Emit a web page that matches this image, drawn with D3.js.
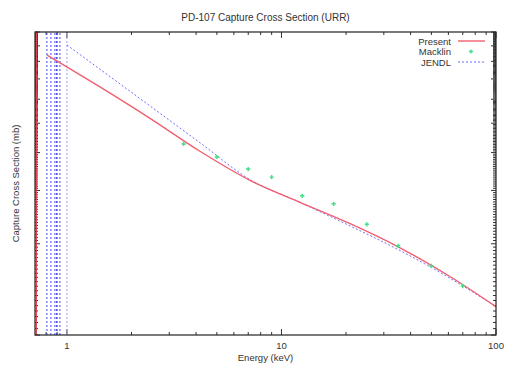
<!DOCTYPE html>
<html>
<head>
<meta charset="utf-8">
<script src="https://cdn.jsdelivr.net/npm/d3@7"></script>
<style>
    body { margin: 0; background: #fff; }
    text { font-family: "Liberation Sans", Arial, sans-serif; fill: #333; }
</style>
</head>
<body>
<div id="chart"></div>
<script>
(function() {
    'use strict';

    // Present (red line) - energy in keV, cross section in mb
    var presentE = [0.807, 1.425, 2.44, 4.17, 7.13, 12.2, 20.9, 35.7, 61.0, 100];
    var presentXS = [840, 659, 519, 404, 324, 274, 233, 194, 156, 124];

    // Macklin (green points)
    var macklinE = [3.5, 5, 7, 9, 12.5, 17.5, 25, 35, 50, 70];
    var macklinXS = [427, 387, 353, 332, 288, 271, 232, 197, 169, 145];

    // JENDL (blue dotted line)
    var jendlE = [1.0, 2.44, 4.17, 7.13, 12.2, 20.9, 35.7, 61.0, 100];
    var jendlXS = [906, 570, 431, 326, 274, 229, 190, 154, 124];

    // resolved resonance region edges (vertical lines)
    var presentSpikes = [0.72];
    var jendlSpikes = [0.807, 0.842, 0.879, 0.895, 0.9, 0.928, 1.0];

    var xTickLabels = [1, 10, 100];
    var legendNames = ["Present", "Macklin", "JENDL"];

    var width = 507, height = 365;
    var margin = { left: 35, right: 11, top: 32, bottom: 30 };

    var svg = d3.select("#chart").append("svg")
        .attr("width", width)
        .attr("height", height);

    var x = d3.scaleLog()
        .domain([0.71, 100])
        .range([margin.left, width - margin.right]);
    var y = d3.scaleLog()
        .domain([100, 1000])
        .range([height - margin.bottom, margin.top]);

    var x0 = x.range()[0], x1 = x.range()[1];
    var y0 = y.range()[0], y1 = y.range()[1];

    svg.append("clipPath").attr("id", "plotclip")
        .append("rect")
        .attr("x", x0).attr("y", y1)
        .attr("width", x1 - x0).attr("height", y0 - y1);

    // ticks
    var xMinor = [];
    [0.1, 1, 10].forEach(function(p) {
        for (var k = 2; k <= 9; k++) {
            var v = k * p;
            if (v >= 0.71 && v < 100) xMinor.push(v);
        }
    });
    var yTicks = d3.range(100, 1001, 5);

    var ticks = svg.append("g").attr("stroke", "#333").attr("stroke-width", 1);
    xMinor.concat(xTickLabels).forEach(function(v) {
        var len = xTickLabels.indexOf(v) >= 0 ? 6 : 3;
        ticks.append("line").attr("x1", x(v)).attr("x2", x(v)).attr("y1", y0).attr("y2", y0 - len);
        ticks.append("line").attr("x1", x(v)).attr("x2", x(v)).attr("y1", y1).attr("y2", y1 + len);
    });
    yTicks.forEach(function(v) {
        var len = (v % 100 === 0) ? 5 : 3;
        ticks.append("line").attr("x1", x0).attr("x2", x0 + len).attr("y1", y(v)).attr("y2", y(v));
        ticks.append("line").attr("x1", x1).attr("x2", x1 - len).attr("y1", y(v)).attr("y2", y(v));
    });

    svg.append("g").selectAll("text")
        .data(xTickLabels)
        .enter().append("text")
        .attr("x", function(d) { return x(d); })
        .attr("y", y0 + 14)
        .attr("text-anchor", "middle")
        .attr("font-size", "9.5px")
        .text(function(d) { return d; });

    var plot = svg.append("g").attr("clip-path", "url(#plotclip)");

    // resonance edges
    plot.selectAll(".jendl-spike")
        .data(jendlSpikes)
        .enter().append("line")
        .attr("class", "jendl-spike")
        .attr("x1", function(d) { return x(d); })
        .attr("x2", function(d) { return x(d); })
        .attr("y1", y(100)).attr("y2", y(1000))
        .attr("stroke", function(d) { return d < 1 ? "#4a4af0" : "#9a9aff"; })
        .attr("stroke-width", 1)
        .attr("stroke-dasharray", "2,2");

    plot.selectAll(".present-spike")
        .data(presentSpikes)
        .enter().append("line")
        .attr("class", "present-spike")
        .attr("x1", function(d) { return x(d); })
        .attr("x2", function(d) { return x(d); })
        .attr("y1", y(100)).attr("y2", y(1000))
        .attr("stroke", "#e0405a")
        .attr("stroke-width", 1.3);

    var line = d3.line()
        .curve(d3.curveMonotoneX)
        .x(function(d) { return x(d[0]); })
        .y(function(d) { return y(d[1]); });

    plot.append("path")
        .datum(d3.zip(jendlE, jendlXS))
        .attr("fill", "none")
        .attr("stroke", "#6f6fff")
        .attr("stroke-width", 1)
        .attr("stroke-dasharray", "2,2")
        .attr("d", line);

    plot.append("path")
        .datum(d3.zip(presentE, presentXS))
        .attr("fill", "none")
        .attr("stroke", "#f0606e")
        .attr("stroke-width", 1.4)
        .attr("d", line);

    var cross = d3.symbol().type(d3.symbolCross).size(10);
    plot.selectAll(".macklin")
        .data(d3.zip(macklinE, macklinXS))
        .enter().append("path")
        .attr("class", "macklin")
        .attr("transform", function(d) { return "translate(" + x(d[0]) + "," + y(d[1]) + ")"; })
        .attr("fill", "#44dd88")
        .attr("d", cross);

    // frame
    svg.append("rect")
        .attr("x", x0).attr("y", y1)
        .attr("width", x1 - x0).attr("height", y0 - y1)
        .attr("fill", "none")
        .attr("stroke", "#222")
        .attr("stroke-width", 1.2);

    // legend
    var legend = svg.append("g");
    legendNames.forEach(function(name, i) {
        var ly = 41 + i * 10.5;
        legend.append("text")
            .attr("x", 451).attr("y", ly + 3.5)
            .attr("text-anchor", "end")
            .attr("font-size", "9.5px")
            .text(name);
        if (i === 0) {
            legend.append("line").attr("x1", 458).attr("x2", 485).attr("y1", ly).attr("y2", ly)
                .attr("stroke", "#f0606e").attr("stroke-width", 1.4);
        } else if (i === 1) {
            legend.append("path").attr("transform", "translate(471," + ly + ")")
                .attr("fill", "#44dd88").attr("d", cross);
        } else {
            legend.append("line").attr("x1", 458).attr("x2", 485).attr("y1", ly).attr("y2", ly)
                .attr("stroke", "#6f6fff").attr("stroke-width", 1).attr("stroke-dasharray", "2,2");
        }
    });

    // titles
    svg.append("text")
        .attr("x", (x0 + x1) / 2).attr("y", 21)
        .attr("text-anchor", "middle")
        .attr("font-size", "10px")
        .text("PD-107 Capture Cross Section (URR)");

    svg.append("text")
        .attr("x", (x0 + x1) / 2).attr("y", 361)
        .attr("text-anchor", "middle")
        .attr("font-size", "9.5px")
        .text("Energy (keV)");

    svg.append("text")
        .attr("transform", "translate(19," + ((y0 + y1) / 2) + ") rotate(-90)")
        .attr("text-anchor", "middle")
        .attr("font-size", "9.5px")
        .text("Capture Cross Section (mb)");
})();
</script>
</body>
</html>
